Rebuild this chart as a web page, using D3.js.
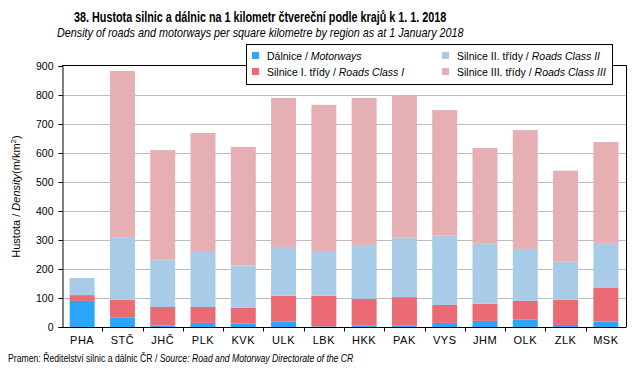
<!DOCTYPE html>
<html>
<head>
<meta charset="utf-8">
<script src="https://cdn.jsdelivr.net/npm/d3@7"></script>
<style>
  body { margin: 0; background: #fff; }
  svg { display: block; font-family: "Liberation Sans", Arial, sans-serif; }
</style>
</head>
<body>
<div id="chart"></div>
<script>
// Hustota silnic a dálnic podle krajů, 1. 1. 2018 (m/km2)

const regions = ["PHA", "STČ", "JHČ", "PLK", "KVK", "ULK", "LBK", "HKK", "PAK", "VYS", "JHM", "OLK", "ZLK", "MSK"];
const motorways = [90, 32, 5, 14, 12, 19, 2, 5, 5, 14, 21, 25, 7, 19];
const roadsI = [20, 62, 64, 55, 55, 89, 106, 92, 98, 62, 59, 65, 87, 117];
const roadsII = [59, 216, 163, 193, 145, 168, 154, 186, 205, 239, 207, 179, 131, 154];
const roadsIII = [0, 573, 378, 407, 409, 514, 504, 507, 490, 433, 330, 410, 314, 348];
const yTicks = [0, 100, 200, 300, 400, 500, 600, 700, 800, 900];

const seriesKeys = ["mot", "r1", "r2", "r3"];
const seriesLabels = [
  ["Dálnice", "Motorways"],
  ["Silnice I. třídy", "Roads Class I"],
  ["Silnice II.  třídy", "Roads Class II"],
  ["Silnice III.  třídy", "Roads Class III"]
];
const colors = ["#2ba6fb", "#ea6b73", "#a8cce7", "#e6afb3"];

const width = 643, height = 375;
const plot = { left: 62, right: 626, top: 66, bottom: 327 };

const rows = regions.map((r, i) => ({
  region: r, mot: motorways[i], r1: roadsI[i], r2: roadsII[i], r3: roadsIII[i]
}));

const svg = d3.select("#chart").append("svg")
  .attr("width", width)
  .attr("height", height);

// squeeze a text horizontally so it spans the given width (narrow font look)
function fitText(sel, x0, y0, w) {
  const len = sel.node().getComputedTextLength();
  sel.attr("transform", `translate(${x0},${y0}) scale(${w / len},1)`);
  return sel;
}

const x = d3.scaleBand()
  .domain(regions)
  .range([plot.left, plot.right]);

const y = d3.scaleLinear()
  .domain([0, 900])
  .range([plot.bottom, plot.top]);

// grid
svg.append("g")
  .selectAll("line")
  .data(yTicks.filter(t => t > 0 && t < 900))
  .join("line")
  .attr("x1", plot.left).attr("x2", plot.right)
  .attr("y1", d => y(d) + 0.5).attr("y2", d => y(d) + 0.5)
  .attr("stroke", "#bdbdbd")
  .attr("stroke-width", 1);

// bars
const stack = d3.stack().keys(seriesKeys)(rows);
const barW = x.bandwidth() * 0.62;

svg.append("g")
  .selectAll("g")
  .data(stack)
  .join("g")
  .attr("fill", (d, i) => colors[i])
  .selectAll("rect")
  .data(d => d)
  .join("rect")
  .attr("x", d => x(d.data.region) + (x.bandwidth() - barW) / 2)
  .attr("width", barW)
  .attr("y", d => y(d[1]))
  .attr("height", d => y(d[0]) - y(d[1]));

// frame: top and right
svg.append("path")
  .attr("d", `M${plot.left},${plot.top - 0.5}H${plot.right + 0.5}V${plot.bottom}`)
  .attr("fill", "none")
  .attr("stroke", "#000");

// y axis
const yAxis = svg.append("g")
  .attr("transform", `translate(${plot.left + 0.5},0)`)
  .call(d3.axisLeft(y).tickValues(yTicks).tickSize(4).tickPadding(5));
yAxis.select(".domain").attr("stroke", "#000");
yAxis.selectAll(".tick line").attr("stroke", "#000");
yAxis.selectAll("text")
  .style("font-family", "Liberation Sans, Arial, sans-serif")
  .style("font-size", "10.5px")
  .attr("fill", "#000");

// x axis with ticks at band edges
const xAxisG = svg.append("g")
  .attr("transform", `translate(0,${plot.bottom + 0.5})`);
xAxisG.append("line")
  .attr("x1", plot.left).attr("x2", plot.right + 0.5)
  .attr("stroke", "#000");
xAxisG.selectAll("line.edge")
  .data(regions.slice(1))
  .join("line")
  .attr("class", "edge")
  .attr("x1", d => Math.round(x(d)) + 0.5).attr("x2", d => Math.round(x(d)) + 0.5)
  .attr("y1", 0).attr("y2", 4)
  .attr("stroke", "#000");
xAxisG.selectAll("text")
  .data(regions)
  .join("text")
  .attr("x", d => x(d) + x.bandwidth() / 2)
  .attr("y", 16)
  .attr("text-anchor", "middle")
  .style("font-size", "11px")
  .style("letter-spacing", "0.5px")
  .text(d => d);

// y axis title
const yTitle = svg.append("text")
  .attr("transform", `translate(20,${(plot.top + plot.bottom) / 2}) rotate(-90)`)
  .attr("text-anchor", "middle")
  .style("font-size", "11px");
yTitle.append("tspan").text("Hustota / ");
yTitle.append("tspan").style("font-style", "italic").text("Density");
yTitle.append("tspan").text("(m/km");
yTitle.append("tspan").attr("dy", -4).style("font-size", "8px").text("2");
yTitle.append("tspan").attr("dy", 4).text(")");

// legend
const legend = svg.append("g");
legend.append("rect")
  .attr("x", 246.5).attr("y", 44.5)
  .attr("width", 366).attr("height", 40)
  .attr("fill", "#fff")
  .attr("stroke", "#000");

const legendPos = [[252, 56], [252, 72], [442, 56], [442, 72]];
seriesLabels.forEach((lab, i) => {
  const [lx, ly] = legendPos[i];
  legend.append("rect")
    .attr("x", lx).attr("y", ly - 4)
    .attr("width", 7).attr("height", 7)
    .attr("fill", colors[i]);
  const t = legend.append("text")
    .attr("x", lx + 15).attr("y", ly + 4)
    .style("font-size", "10.5px");
  t.append("tspan").text(lab[0] + " / ");
  t.append("tspan").style("font-style", "italic").text(lab[1]);
});

// titles
fitText(svg.append("text")
  .style("font-size", "14.5px")
  .style("font-weight", "bold")
  .text("38. Hustota  silnic a dálnic na 1 kilometr čtvereční podle krajů k 1. 1. 2018"),
  74, 22, 373);

fitText(svg.append("text")
  .style("font-size", "13px")
  .style("font-style", "italic")
  .text("Density of roads and motorways  per square  kilometre by region  as at 1 January  2018"),
  57, 37, 407);

// source
const src = svg.append("text")
  .style("font-size", "11px");
src.append("tspan").text("Pramen:  Ředitelství silnic a dálnic ČR  / ");
src.append("tspan").style("font-style", "italic").text("Source: Road and Motorway Directorate of the CR");
fitText(src, 8, 362, 346);
</script>
</body>
</html>
